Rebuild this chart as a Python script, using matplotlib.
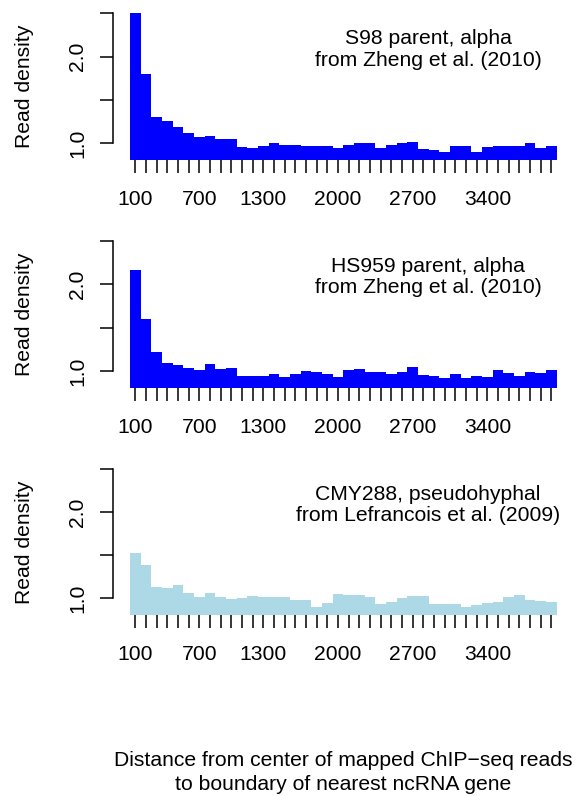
import matplotlib
matplotlib.use("Agg")
import matplotlib.pyplot as plt

plt.rcParams["font.family"] = ["Liberation Sans", "DejaVu Sans"]

# Distance bins (bp) - one bar per bin
distances = [100, 200, 300, 400, 500, 600, 700, 800, 900, 1000,
             1100, 1200, 1300, 1400, 1500, 1600, 1700, 1800, 1900, 2000,
             2100, 2200, 2300, 2400, 2500, 2600, 2700, 2800, 2900, 3000,
             3100, 3200, 3300, 3400, 3500, 3600, 3700, 3800, 3900, 4000]
shown_labels = [100, 700, 1300, 2000, 2700, 3400]

# Read density per bin
s98 = [2.50, 1.80, 1.30, 1.25, 1.19, 1.12, 1.07, 1.08, 1.05, 1.05,
       0.95, 0.94, 0.96, 1.00, 0.98, 0.98, 0.97, 0.97, 0.965, 0.94,
       0.98, 1.00, 1.00, 0.94, 0.98, 1.00, 1.01, 0.93, 0.915, 0.90,
       0.97, 0.96, 0.90, 0.95, 0.97, 0.97, 0.97, 1.00, 0.94, 0.97]
hs959 = [2.17, 1.60, 1.22, 1.09, 1.07, 1.035, 1.01, 1.08, 1.02, 1.035,
         0.94, 0.94, 0.94, 0.965, 0.93, 0.965, 1.00, 0.99, 0.965, 0.93,
         1.01, 1.02, 0.99, 0.99, 0.965, 0.99, 1.05, 0.955, 0.94, 0.92,
         0.965, 0.92, 0.94, 0.93, 1.01, 0.98, 0.94, 0.99, 0.98, 1.01]
cmy288 = [1.53, 1.38, 1.13, 1.12, 1.15, 1.06, 1.01, 1.06, 1.01, 0.99,
          1.00, 1.02, 1.01, 1.01, 1.01, 0.98, 0.98, 0.90, 0.94, 1.05,
          1.04, 1.04, 1.01, 0.93, 0.95, 1.00, 1.02, 1.02, 0.93, 0.93,
          0.93, 0.90, 0.92, 0.94, 0.95, 1.01, 1.04, 0.98, 0.97, 0.95]

panels = [
    (s98, "#0000FF", "S98 parent, alpha\nfrom Zheng et al. (2010)"),
    (hs959, "#0000FF", "HS959 parent, alpha\nfrom Zheng et al. (2010)"),
    (cmy288, "#ADD8E6", "CMY288, pseudohyphal\nfrom Lefrancois et al. (2009)"),
]

W, H = 578, 796
fig = plt.figure(figsize=(W / 100, H / 100), dpi=100)

# panel boxes in pixels: left, top, right, bottom
left_px, right_px = 113, 573.7
tops = [13.3, 241, 469.3]
bottoms = [160.3, 388.3, 615.3]
fs = 15.2

for (vals, col, label), top, bot in zip(panels, tops, bottoms):
    ax = fig.add_axes([left_px / W, 1 - bot / H, (right_px - left_px) / W, (bot - top) / H])
    x = list(range(len(vals)))
    ax.bar(x, vals, width=1.0, color=col, linewidth=0)
    ax.set_xlim(-2.1, 41.1)
    ax.set_ylim(0.8, 2.5)

    for s in ["top", "right", "bottom"]:
        ax.spines[s].set_visible(False)
    ax.spines["left"].set_bounds(1.0, 2.5)
    ax.spines["left"].set_linewidth(1.1)

    ax.set_yticks([1.0, 1.5, 2.0, 2.5], labels=["1.0", "", "2.0", ""])
    ax.set_xticks(x, labels=[str(d) if d in shown_labels else "" for d in distances])
    ax.tick_params(axis="both", direction="out", length=9.4, width=1.1, labelsize=fs)
    ax.tick_params(axis="x", pad=12)
    ax.tick_params(axis="y", pad=9)
    plt.setp(ax.get_yticklabels(), rotation=90, va="center", ha="right")

    ax.text(0.684, 0.754, label, transform=ax.transAxes, ha="center", va="center",
            fontsize=fs, linespacing=1.15)

    fig.text(25 / W, 1 - (top + bot) / 2 / H, "Read density", rotation=90,
             ha="center", va="center", fontsize=fs)

xc = (left_px + right_px) / 2 / W
fig.text(xc, 1 - 760 / H, "Distance from center of mapped ChIP\u2212seq reads",
         ha="center", va="center", fontsize=fs)
fig.text(xc, 1 - 785 / H, "to boundary of nearest ncRNA gene",
         ha="center", va="center", fontsize=fs)

fig.savefig("out.png", dpi=100)
